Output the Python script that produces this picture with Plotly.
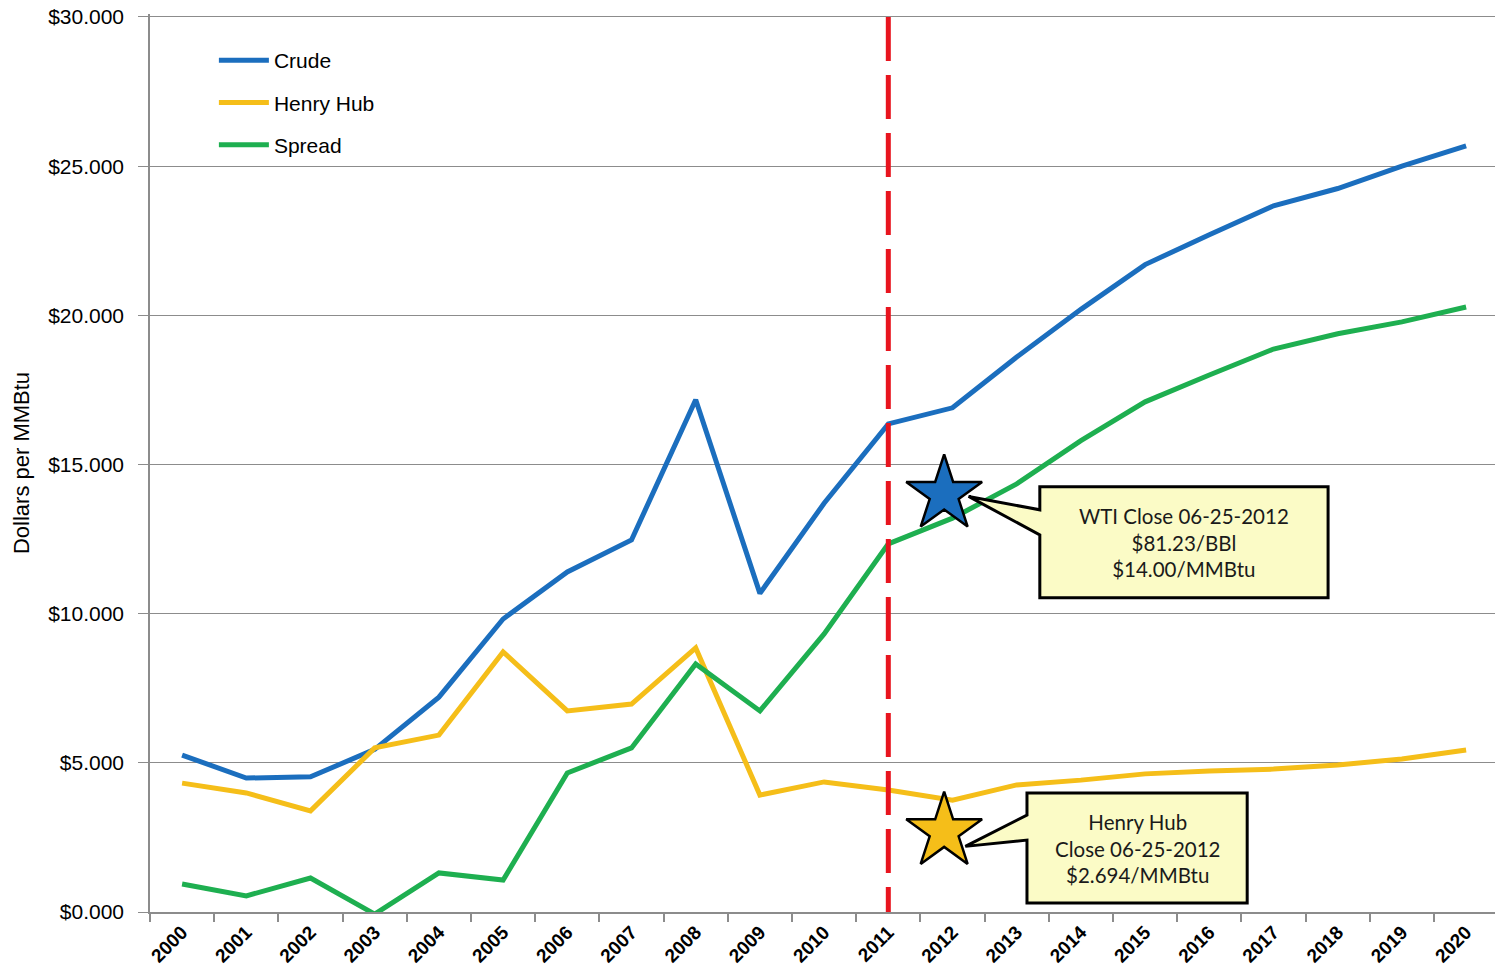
import plotly.graph_objects as go

years = list(range(2000, 2021))
crude = [5.26, 4.49, 4.53, 5.45, 7.2, 9.82, 11.4, 12.47, 17.17, 10.68, 13.7, 16.36,
         16.9, 18.6, 20.2, 21.7, 22.7, 23.67, 24.25, 25.0, 25.68]
henry_hub = [4.32, 3.99, 3.39, 5.5, 5.93, 8.72, 6.74, 6.97, 8.85, 3.92, 4.36, 4.09,
             3.75, 4.26, 4.42, 4.63, 4.73, 4.79, 4.93, 5.13, 5.43]
spread = [0.94, 0.54, 1.14, -0.07, 1.31, 1.07, 4.66, 5.5, 8.31, 6.74, 9.32, 12.34,
          13.2, 14.35, 15.8, 17.1, 18.0, 18.87, 19.38, 19.78, 20.28]

star_x = 2011.87
wti_close = 14.00
hh_close = 2.694
cutoff_year = 2011

y_ticks = [0, 5, 10, 15, 20, 25, 30]

BLUE = "#1B6EBE"
YELLOW = "#F5BE19"
GREEN = "#1EAF50"
RED = "#E8141E"
FONT = "Liberation Sans, Arial"

fig = go.Figure()
fig.add_trace(go.Scatter(x=years, y=crude, mode="lines", name="Crude",
                         line=dict(color=BLUE, width=5), legendgroup="a"))
fig.add_trace(go.Scatter(x=years, y=henry_hub, mode="lines", name="Henry Hub",
                         line=dict(color=YELLOW, width=5), legendgroup="b"))
fig.add_trace(go.Scatter(x=years, y=spread, mode="lines", name="Spread",
                         line=dict(color=GREEN, width=5), legendgroup="c"))


def callout(x0, x1, y0, y1, wy_hi, wy_lo, tx, ty):
    return (f"M {x0},{y1} L {x1},{y1} L {x1},{y0} L {x0},{y0} "
            f"L {x0},{wy_lo} L {tx},{ty} L {x0},{wy_hi} Z")


fig.add_shape(type="path", xref="x", yref="y",
              path=callout(2013.36, 2017.85, 10.53, 14.25, 13.48, 12.64, 2012.25, 13.93),
              fillcolor="#FBFBC6", line=dict(color="black", width=3), layer="above")
fig.add_shape(type="path", xref="x", yref="y",
              path=callout(2013.16, 2016.59, 0.30, 3.99, 3.25, 2.41, 2012.2, 2.2),
              fillcolor="#FBFBC6", line=dict(color="black", width=3), layer="above")

fig.add_shape(type="line", xref="x", yref="y", x0=cutoff_year, x1=cutoff_year, y0=30, y1=0,
              line=dict(color=RED, width=5, dash="44px,14px"), layer="above")

fig.add_trace(go.Scatter(x=[star_x], y=[wti_close], mode="markers", showlegend=False,
                         marker=dict(symbol="star", size=57, color=BLUE,
                                     line=dict(color="black", width=2.5))))
fig.add_trace(go.Scatter(x=[star_x], y=[hh_close], mode="markers", showlegend=False,
                         marker=dict(symbol="star", size=57, color=YELLOW,
                                     line=dict(color="black", width=2.5))))

fig.add_annotation(x=(2013.36 + 2017.85) / 2, y=(10.53 + 14.25) / 2, xref="x", yref="y",
                   text="WTI Close 06-25-2012<br>$81.23/BBl<br>$14.00/MMBtu",
                   showarrow=False, font=dict(family="Lato", size=20.5, color="#1a1a1a"),
                   align="center")
fig.add_annotation(x=(2013.16 + 2016.59) / 2, y=(0.30 + 3.99) / 2, xref="x", yref="y",
                   text="Henry Hub<br>Close 06-25-2012<br>$2.694/MMBtu",
                   showarrow=False, font=dict(family="Lato", size=20.5, color="#1a1a1a"),
                   align="center")

fig.update_layout(
    width=1495, height=975,
    margin=dict(l=150, r=0, t=14, b=63),
    plot_bgcolor="white", paper_bgcolor="white",
    font=dict(family=FONT, color="black"),
    legend=dict(x=0.0475, y=0.971, xanchor="left", yanchor="top",
                font=dict(size=21, family=FONT),
                bgcolor="rgba(0,0,0,0)", tracegroupgap=12, itemwidth=50),
    showlegend=True,
)
fig.update_xaxes(range=[1999.5, 2020.45], tickvals=years, ticktext=[str(y) for y in years],
                 tickangle=-45, ticks="", showgrid=False, zeroline=False,
                 showline=True, linecolor="#8c8c8c", linewidth=1.5,
                 tickfont=dict(size=19, family=FONT, color="black", weight="bold"),
                 minor=dict(tick0=1999.5, dtick=1, ticks="outside", ticklen=8,
                            tickcolor="#8c8c8c", tickwidth=1.5, showgrid=False),
                 ticklabeloverflow="allow",
                 automargin=False)
fig.update_yaxes(range=[0, 30.1], tickvals=y_ticks, tickformat="$.3f",
                 showgrid=True, gridcolor="#8c8c8c", gridwidth=1.2, zeroline=False,
                 showline=True, linecolor="#8c8c8c", linewidth=1.5,
                 ticks="outside", ticklen=10, tickcolor="#8c8c8c",
                 ticklabelstandoff=10, ticklabeloverflow="allow",
                 tickfont=dict(size=21, family=FONT, color="black"),
                 title=dict(text="Dollars per MMBtu", standoff=12,
                            font=dict(size=22, family=FONT)),
                 automargin=False)

fig.write_html("out.html", config={"displayModeBar": False},
               post_script="document.body.style.margin='0';document.body.style.overflow='hidden';")
